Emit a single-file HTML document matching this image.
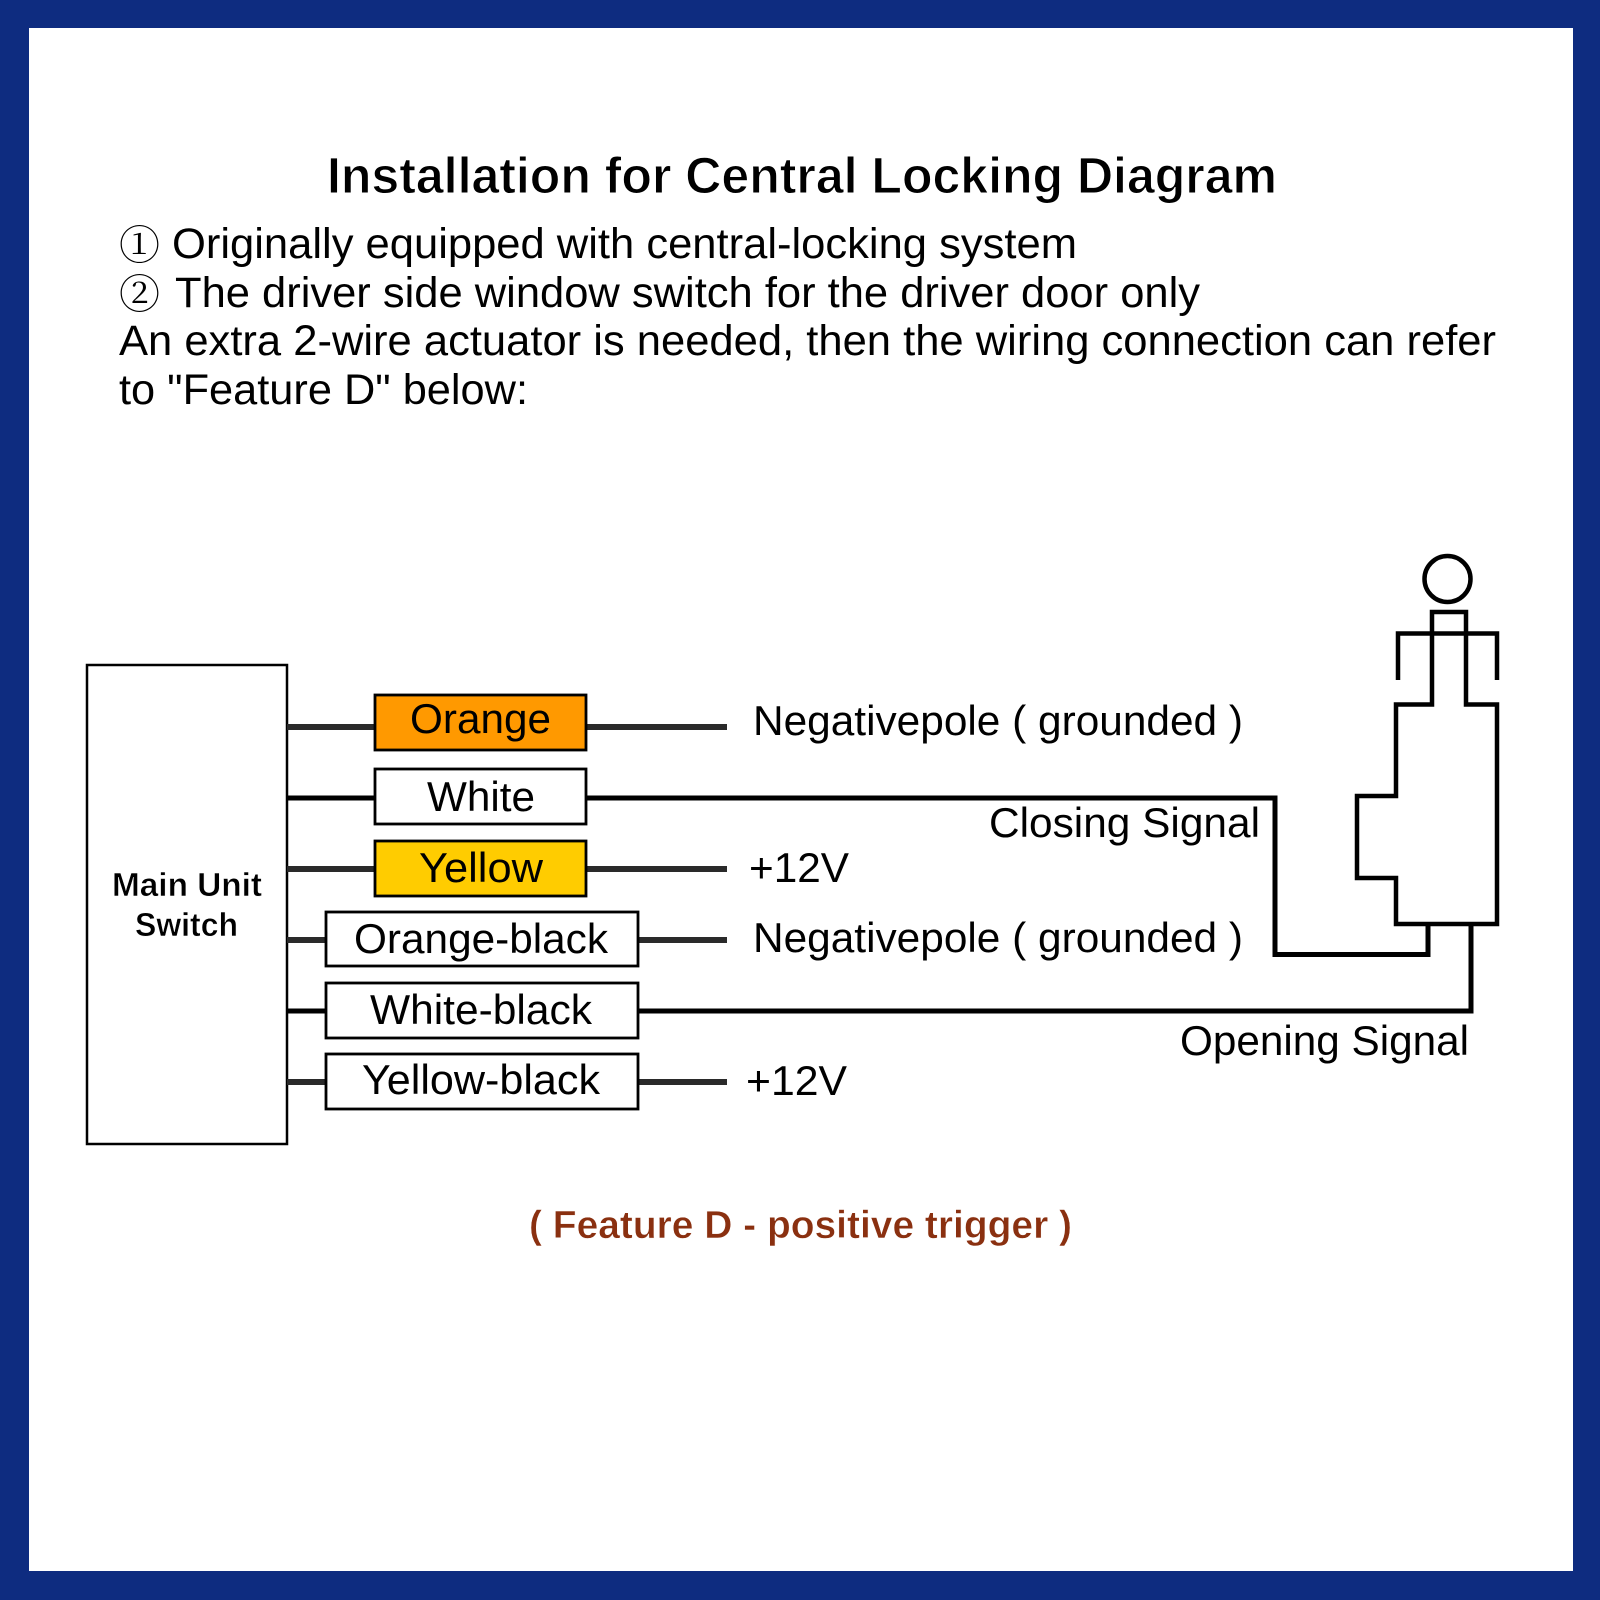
<!DOCTYPE html>
<html>
<head>
<meta charset="utf-8">
<style>
html,body{margin:0;padding:0;background:#fff;}
svg{display:block;filter:blur(.35px);}
text{font-family:"Liberation Sans",Arial,sans-serif;fill:#000;}
</style>
</head>
<body>
<svg xmlns="http://www.w3.org/2000/svg" width="1600" height="1600" viewBox="0 0 1600 1600">
<rect width="1600" height="1600" fill="#0e2c80"/>
<rect x="29" y="28" width="1544" height="1543" fill="#fff"/>

<text x="327" y="193" font-size="51" font-weight="bold" textLength="950" lengthAdjust="spacingAndGlyphs" style="stroke:#fff;stroke-width:1px">Installation for Central Locking Diagram</text>
<text x="119" y="259" font-size="40" textLength="41" lengthAdjust="spacingAndGlyphs" style="font-family:'Noto Serif CJK SC',serif">①</text>
<text x="172" y="258" font-size="43" textLength="905" lengthAdjust="spacingAndGlyphs">Originally equipped with central-locking system</text>
<text x="119" y="308" font-size="40" textLength="41" lengthAdjust="spacingAndGlyphs" style="font-family:'Noto Serif CJK SC',serif">②</text>
<text x="175" y="307" font-size="43" textLength="1025" lengthAdjust="spacingAndGlyphs">The driver side window switch for the driver door only</text>
<text x="119" y="355" font-size="43" textLength="1377" lengthAdjust="spacingAndGlyphs">An extra 2-wire actuator is needed, then the wiring connection can refer</text>
<text x="119" y="404" font-size="43" textLength="409" lengthAdjust="spacingAndGlyphs">to "Feature D" below:</text>

<g fill="none" stroke="#000" stroke-linejoin="miter">
<rect x="87" y="665" width="200" height="479" fill="#fff" stroke-width="2.5"/>
<g stroke="#2a2a2a" stroke-width="6">
<line x1="287" y1="727" x2="375" y2="727"/><line x1="586" y1="727" x2="727" y2="727"/>
<line x1="287" y1="869" x2="375" y2="869"/><line x1="586" y1="869" x2="727" y2="869"/>
<line x1="287" y1="940" x2="326" y2="940"/><line x1="638" y1="940" x2="727" y2="940"/>
<line x1="287" y1="1082" x2="326" y2="1082"/><line x1="638" y1="1082" x2="727" y2="1082"/>
</g>
<g stroke="#000" stroke-width="5">
<line x1="287" y1="798" x2="375" y2="798"/>
<line x1="287" y1="1011" x2="326" y2="1011"/>
</g>
<rect x="375" y="695" width="211" height="55" fill="#ff9900" stroke-width="2.8"/>
<rect x="375" y="769" width="211" height="55" fill="#fff" stroke-width="2.8"/>
<rect x="375" y="841" width="211" height="55" fill="#ffcc00" stroke-width="2.8"/>
<rect x="326" y="912" width="312" height="54" fill="#fff" stroke-width="2.8"/>
<rect x="326" y="983" width="312" height="55" fill="#fff" stroke-width="2.8"/>
<rect x="326" y="1054" width="312" height="55" fill="#fff" stroke-width="2.8"/>
<path d="M586 798H1275V954.500H1428V924" stroke-width="5"/>
<path d="M638 1011H1471V924" stroke-width="5"/>
<path d="M1396 704.500H1432V612H1466V704.500H1497V924H1396V878H1357V796H1396Z" stroke-width="4.500"/>
<path d="M1398 680V633.500H1497V680" stroke-width="4.500"/>
<circle cx="1447.500" cy="579" r="23" stroke-width="4.500"/>
</g>

<g font-size="42" text-anchor="start">
<text x="410" y="733" textLength="141" lengthAdjust="spacingAndGlyphs">Orange</text>
<text x="427" y="811" textLength="108" lengthAdjust="spacingAndGlyphs">White</text>
<text x="419" y="882" textLength="124" lengthAdjust="spacingAndGlyphs">Yellow</text>
<text x="354" y="953" textLength="254" lengthAdjust="spacingAndGlyphs">Orange-black</text>
<text x="370" y="1024" textLength="222" lengthAdjust="spacingAndGlyphs">White-black</text>
<text x="362" y="1094" textLength="238" lengthAdjust="spacingAndGlyphs">Yellow-black</text>
<text x="753" y="735" textLength="490" lengthAdjust="spacingAndGlyphs">Negativepole ( grounded )</text>
<text x="753" y="952" textLength="490" lengthAdjust="spacingAndGlyphs">Negativepole ( grounded )</text>
<text x="749" y="882" textLength="100" lengthAdjust="spacingAndGlyphs">+12V</text>
<text x="746" y="1095" textLength="101" lengthAdjust="spacingAndGlyphs">+12V</text>
<text x="989" y="837" textLength="271" lengthAdjust="spacingAndGlyphs">Closing Signal</text>
<text x="1180" y="1055" textLength="289" lengthAdjust="spacingAndGlyphs">Opening Signal</text>
</g>
<g style="stroke:#fff;stroke-width:.5px">
<text x="112" y="896" font-size="33" font-weight="bold" textLength="150" lengthAdjust="spacingAndGlyphs">Main Unit</text>
<text x="135" y="936" font-size="33" font-weight="bold" textLength="103" lengthAdjust="spacingAndGlyphs">Switch</text>
<text x="529" y="1238" font-size="39" font-weight="bold" textLength="543" lengthAdjust="spacingAndGlyphs" style="fill:#8a3010">( Feature D - positive trigger )</text>
</g>
</svg>
</body>
</html>
